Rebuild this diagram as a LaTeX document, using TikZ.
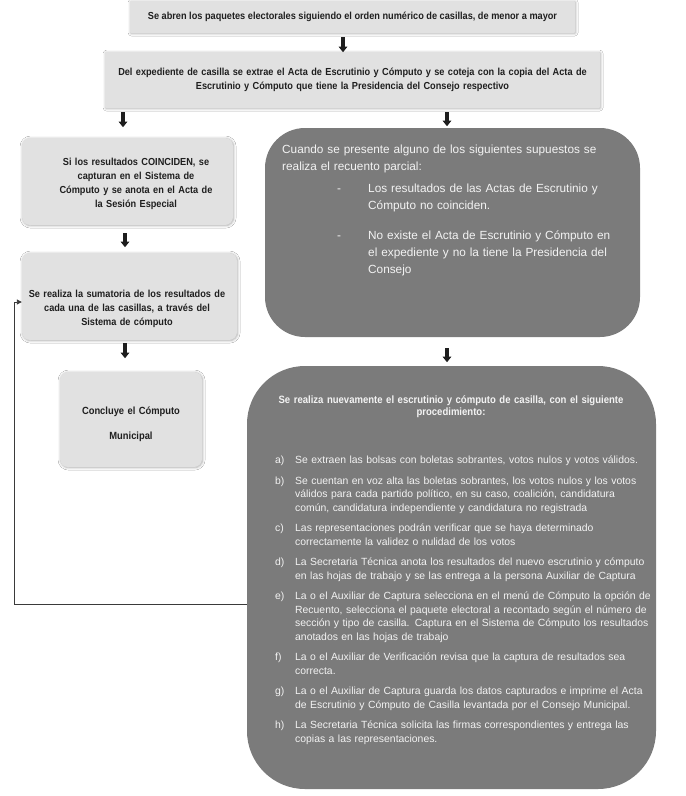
\documentclass[tikz,border=0pt]{standalone}
\usepackage{fontspec}
\setmainfont{Liberation Sans}
\newfontfamily\narrowfont[FakeStretch=0.9]{Liberation Sans}
\usetikzlibrary{arrows.meta,shadows.blur}
\definecolor{lightbox}{HTML}{E1E1E1}
\definecolor{darkbox}{HTML}{7B7B7B}
\definecolor{lighttext}{HTML}{F3F3F3}
\definecolor{arrowc}{HTML}{1E1E1E}
\definecolor{fbline}{HTML}{3A3A3A}
\tikzset{
  lbox/.style={fill=lightbox, draw=none, inner sep=0pt, rounded corners=#1,
    blur shadow={shadow xshift=0.6pt, shadow yshift=-0.6pt, shadow blur radius=2.5pt, shadow opacity=35}},
  dbox/.style={fill=darkbox, draw=none, inner sep=0pt, rounded corners=#1},
  btxt/.style={font=\narrowfont\bfseries\fontsize{10.2}{14}\selectfont, text=black!88, inner sep=0pt, align=center},
  htxt/.style={font=\narrowfont\bfseries\fontsize{10.6}{12.5}\selectfont, text=lighttext, inner sep=0pt, align=center},
  rtxt/.style={font=\fontsize{11.8}{17}\selectfont, text=lighttext, inner sep=0pt, align=left},
  itxt/.style={font=\fontsize{10.4}{13.5}\selectfont, text=lighttext, inner sep=0pt, align=left},
  barrow/.style={draw=arrowc, line width=3.2pt, -{Triangle[width=8.5pt,length=5.5pt]}},
  fb/.style={draw=fbline, line width=0.9pt, -{Triangle[width=5pt,length=5pt]}}
}
\begin{document}
\begin{tikzpicture}[x=1pt,y=-1pt]
\useasboundingbox (0,0) rectangle (686,796);
\fill[white] (0,0) rectangle (686,796);

% boxes
\node[lbox=1pt, minimum width=445pt, minimum height=32pt] (top) at (352.5,17) {};
\node[lbox=1pt, minimum width=495pt, minimum height=56pt] (second) at (352.5,80) {};
\node[lbox=8pt, minimum width=211pt, minimum height=87pt] (L1) at (127.5,181.5) {};
\node[lbox=8pt, minimum width=215pt, minimum height=87pt] (L2) at (129.5,296.5) {};
\node[lbox=8pt, minimum width=142pt, minimum height=95pt] (L3) at (131,419.5) {};
\node[dbox=40pt, minimum width=375pt, minimum height=209pt] (R1) at (452.5,232.5) {};
\node[dbox=58pt, minimum width=409pt, minimum height=423pt] (R2) at (451.5,577.5) {};

% texts of light boxes
\node[btxt, anchor=base] (ttop) at (352.5,19.5) {Se abren los paquetes electorales siguiendo el orden numérico de casillas, de menor a mayor};
\node[btxt, anchor=base, text width=490pt] (tsecond) at (352.5,75.5) {Del expediente de casilla se extrae el Acta de Escrutinio y Cómputo y se coteja con la copia del Acta de\\Escrutinio y Cómputo que tiene la Presidencia del Consejo respectivo};
\node[btxt, anchor=base, text width=205pt] (tL1) at (136,165.5) {Si los resultados COINCIDEN, se\\capturan en el Sistema de\\Cómputo y se anota en el Acta de\\la Sesión Especial};
\node[btxt, anchor=base, text width=212pt] (tL2) at (127,297.5) {Se realiza la sumatoria de los resultados de\\cada una de las casillas, a través del\\Sistema de cómputo};
\node[btxt, anchor=base, text width=140pt, font=\narrowfont\bfseries\fontsize{10.4}{25}\selectfont] (tL3) at (131,414.5) {Concluye el Cómputo\\Municipal};

% texts of first dark box
\node[rtxt, anchor=base west, text width=355pt] (tR1) at (282,153.5) {Cuando se presente alguno de los siguientes supuestos se\\realiza el recuento parcial:};
\node[rtxt, anchor=base west] (dash1) at (337,192) {-};
\node[rtxt, anchor=base west, text width=265pt] (tR1a) at (368,192) {Los resultados de las Actas de Escrutinio y\\Cómputo no coinciden.};
\node[rtxt, anchor=base west] (dash2) at (337,239) {-};
\node[rtxt, anchor=base west, text width=265pt] (tR1b) at (368,239) {No existe el Acta de Escrutinio y Cómputo en\\el expediente y no la tiene la Presidencia del\\Consejo};

% texts of second dark box
\node[htxt, anchor=base, text width=395pt] (tR2) at (451,403) {Se realiza nuevamente el escrutinio y cómputo de casilla, con el siguiente\\procedimiento:};

\node[itxt, anchor=base west] (la) at (275,463.5) {a)};
\node[itxt, anchor=base west, text width=358pt] (ia) at (295,463.5) {Se extraen las bolsas con boletas sobrantes, votos nulos y votos válidos.};
\node[itxt, anchor=base west] (lb) at (275,484) {b)};
\node[itxt, anchor=base west, text width=358pt] (ib) at (295,484) {Se cuentan en voz alta las boletas sobrantes, los votos nulos y los votos\\válidos para cada partido político, en su caso, coalición, candidatura\\común, candidatura independiente y candidatura no registrada};
\node[itxt, anchor=base west] (lc) at (275,531.5) {c)};
\node[itxt, anchor=base west, text width=358pt] (ic) at (295,531.5) {Las representaciones podrán verificar que se haya determinado\\correctamente la validez o nulidad de los votos};
\node[itxt, anchor=base west] (ld) at (275,565.5) {d)};
\node[itxt, anchor=base west, text width=358pt] (id) at (295,565.5) {La Secretaria Técnica anota los resultados del nuevo escrutinio y cómputo\\en las hojas de trabajo y se las entrega a la persona Auxiliar de Captura};
\node[itxt, anchor=base west] (le) at (275,599.5) {e)};
\node[itxt, anchor=base west, text width=358pt] (ie) at (295,599.5) {La o el Auxiliar de Captura selecciona en el menú de Cómputo la opción de\\Recuento, selecciona el paquete electoral a recontado según el número de\\sección y tipo de casilla. Captura en el Sistema de Cómputo los resultados\\anotados en las hojas de trabajo};
\node[itxt, anchor=base west] (lf) at (275,660.5) {f)};
\node[itxt, anchor=base west, text width=358pt] (if) at (295,660.5) {La o el Auxiliar de Verificación revisa que la captura de resultados sea\\correcta.};
\node[itxt, anchor=base west] (lg) at (275,694.5) {g)};
\node[itxt, anchor=base west, text width=358pt] (ig) at (295,694.5) {La o el Auxiliar de Captura guarda los datos capturados e imprime el Acta\\de Escrutinio y Cómputo de Casilla levantada por el Consejo Municipal.};
\node[itxt, anchor=base west] (lh) at (275,728.5) {h)};
\node[itxt, anchor=base west, text width=358pt] (ih) at (295,728.5) {La Secretaria Técnica solicita las firmas correspondientes y entrega las\\copias a las representaciones.};

% connectors
\draw[barrow] ([xshift=-9.5pt,yshift=-4pt]top.south) -- ++(0,-15pt);
\draw[barrow] ([xshift=-4.5pt,yshift=-4pt]second.south -| L1.north) -- ++(0,-15pt);
\draw[barrow] ([xshift=-5.5pt,yshift=-4pt]second.south -| R1.north) -- ++(0,-14pt);
\draw[barrow] ([xshift=-2.5pt,yshift=-8pt]L1.south) -- ++(0,-14pt);
\draw[barrow] ([xshift=-4.5pt,yshift=-3pt]L2.south) -- ++(0,-15pt);
\draw[barrow] ([xshift=-5.5pt,yshift=-11pt]R1.south) -- ++(0,-14pt);
\draw[fb] ([yshift=-26.5pt]R2.west) -- ++(-232pt,0) |- ([yshift=-5.5pt]L2.west);
\end{tikzpicture}
\end{document}
